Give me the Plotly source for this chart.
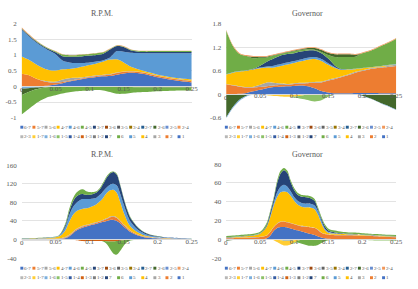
import plotly.graph_objects as go

# ---------------- data ----------------
x_top = [0, 0.01, 0.02, 0.03, 0.04, 0.05, 0.06, 0.07, 0.08, 0.09, 0.10, 0.11, 0.12,
         0.13, 0.14, 0.15, 0.16, 0.17, 0.18, 0.19, 0.20, 0.21, 0.22, 0.23, 0.24, 0.25]
x_bot = [0, 0.01, 0.02, 0.03, 0.04, 0.05, 0.055, 0.06, 0.065, 0.07, 0.075, 0.08, 0.085,
         0.09, 0.095, 0.1, 0.105, 0.11, 0.115, 0.12, 0.125, 0.13, 0.135, 0.14, 0.145,
         0.15, 0.155, 0.16, 0.17, 0.18, 0.19, 0.2, 0.21, 0.22, 0.23, 0.24, 0.25]

legend_row1 = ["6-7", "5-7", "5-6", "4-7", "4-6", "4-5", "3-7", "3-6", "3-5", "3-4", "2-7", "2-6", "2-5", "2-4"]
legend_row2 = ["2-3", "1-7", "1-6", "1-5", "1-4", "1-3", "1-2", "7", "6", "5", "4", "3", "2", "1"]
series_colors = {
    "6-7": "#4472C4", "5-7": "#ED7D31", "5-6": "#A5A5A5", "4-7": "#FFC000", "4-6": "#5B9BD5",
    "4-5": "#70AD47", "3-7": "#264478", "3-6": "#9E480E", "3-5": "#636363", "3-4": "#997300",
    "2-7": "#255E91", "2-6": "#43682B", "2-5": "#698ED0", "2-4": "#F1975A", "2-3": "#B7B7B7",
    "1-7": "#FFCD33", "1-6": "#7CAFDD", "1-5": "#8CC168", "1-4": "#335AA1", "1-3": "#D26012",
    "1-2": "#7C7C7C", "7": "#264478", "6": "#70AD47", "5": "#5B9BD5", "4": "#FFC000",
    "3": "#A5A5A5", "2": "#ED7D31", "1": "#4472C4",
}

x_tick_vals = [0, 0.05, 0.1, 0.15, 0.2, 0.25]
x_tick_text = ["0", "0.05", "0.1", "0.15", "0.2", "0.25"]
titles = ["R.P.M.", "Governor", "R.P.M.", "Governor"]
y_ticks_tl = [-1, -0.5, 0, 0.5, 1, 1.5, 2]
y_text_tl = ["-1", "-0.5", "0", "0.5", "1", "1.5", "2"]
y_ticks_tr = [-0.6, 0, 0.6, 1.2, 1.8]
y_text_tr = ["-0.6", "0", "0.6", "1.2", "1.8"]
y_ticks_bl = [-40, 0, 40, 80, 120, 160]
y_text_bl = ["-40", "0", "40", "80", "120", "160"]
y_ticks_br = [-20, 0, 20, 40, 60, 80]
y_text_br = ["-20", "0", "20", "40", "60", "80"]

# top-left: R.P.M. (normalised)
rpm_n_1 = [0, 0, 0, .01, .03, .06, .10, .15, .19, .23, .27, .30, .32, .33, .37, .41, .43, .42, .39, .34, .29, .25, .21, .18, .15, .12]
rpm_n_2 = [.40, .36, .26, .17, .10, .05, .04, .03, .03, .03, .03, .03, .03, .04, .05, .05, .04, .04, .04, .04, .04, .04, .04, .04, .04, .04]
rpm_n_3 = [0, 0, 0, .01, .02, .04, .08, .08, .05, .03, .02, .02, .02, .02, .02, .01, .01, .01, .01, .01, .01, .01, .01, .01, .01, .01]
rpm_n_4 = [.55, .49, .46, .41, .37, .35, .32, .29, .31, .34, .36, .38, .42, .46, .42, .29, .15, .08, .05, .04, .03, .03, .03, .03, .04, .05]
rpm_n_5 = [.85, .75, .70, .67, .62, .52, .28, .21, .16, .11, .08, .06, .04, .07, .26, .34, .44, .51, .56, .62, .68, .72, .76, .79, .81, .83]
rpm_n_7 = [.03, .03, .03, .03, .04, .06, .14, .18, .20, .22, .22, .21, .21, .25, .16, .15, .08, .05, .04, .04, .04, .04, .04, .04, .04, .04]
rpm_n_45 = [.02, .02, .02, .02, .02, .03, .05, .05, .05, .05, .05, .05, .04, .02, .02, .02, .02, .02, .03, .03, .03, .03, .03, .03, .03, .03]
rpm_n_24 = [.03, .02, .02, .01, .01, .01, .01, .01, .01, .01, .01, .01, .01, .01, .01, .01, .01, .01, .01, .01, .01, .01, .01, .01, .01, .01]
rpm_n_16 = [-.08, -.06, -.04, -.03, -.02, -.02, -.02, -.02, -.02, -.02, -.02, -.02, -.02, -.02, -.02, -.02, -.02, -.02, -.02, -.02, -.02, -.02, -.02, -.02, -.02, -.02]
rpm_n_26 = [-.20, -.12, -.06, -.02, 0, 0, 0, 0, 0, 0, 0, 0, 0, 0, 0, 0, 0, -.01, -.02, -.02, -.02, -.02, -.02, -.02, -.02, -.02]
rpm_n_6 = [-.62, -.55, -.46, -.38, -.31, -.26, -.21, -.17, -.14, -.12, -.11, -.10, -.11, -.16, -.22, -.22, -.19, -.16, -.14, -.13, -.12, -.11, -.10, -.09, -.09, -.09]

# top-right: Governor (normalised)
gov_n_1 = [0, 0, .01, .03, .07, .11, .15, .18, .19, .20, .21, .22, .20, .15, .08, .04, .02, .02, .02, .03, .03, .03, .03, .02, .02, .02]
gov_n_2 = [.25, .22, .18, .14, .10, .07, .05, .04, .04, .04, .05, .05, .08, .14, .22, .31, .37, .42, .47, .52, .56, .60, .63, .66, .68, .70]
gov_n_3 = [.01, .01, .01, .01, .02, .06, .10, .07, .04, .02, .02, .02, .02, .02, .02, .02, .02, .02, .02, .02, .02, .02, .02, .02, .03, .03]
gov_n_4 = [.24, .32, .38, .42, .44, .42, .38, .39, .45, .50, .52, .55, .58, .59, .53, .38, .26, .16, .12, .07, .05, .03, .02, .02, .01, .01]
gov_n_5 = [.01, .01, .01, .01, .01, .02, .03, .05, .05, .05, .05, .05, .05, .05, .05, .04, .02, .01, .01, .01, .01, .01, .01, .01, .01, .01]
gov_n_7 = [0, 0, 0, 0, .01, .05, .12, .18, .22, .22, .20, .20, .19, .17, .15, .12, .04, .01, 0, 0, 0, 0, 0, 0, 0, 0]
gov_n_6 = [1.12, .67, .44, .37, .27, .20, .11, .08, .04, .04, .05, .04, .03, .02, .03, .09, .22, .31, .31, .31, .38, .41, .46, .52, .58, .65]
gov_n_26 = [-.60, -.33, -.14, -.04, .04, .03, .02, .01, .01, .01, .02, .02, .03, .04, .05, .06, .07, .07, .07, .05, -.04, -.10, -.17, -.25, -.32, -.40]
gov_n_24 = [.02, .02, .02, .02, .02, .02, .02, .02, .02, .02, .02, .02, .02, .02, .02, .02, .02, .02, .02, .02, .02, .02, .02, .02, .02, .02]
gov_n_16 = [-.03, -.03, -.03, -.02, -.02, -.02, -.02, -.02, -.02, -.02, -.02, -.02, -.01, -.01, -.01, -.01, -.01, -.01, -.01, -.01, -.01, -.01, -.01, -.01, -.01, -.01]
gov_n_17 = [0, 0, 0, 0, 0, 0, -.01, -.03, -.04, -.05, -.04, -.02, 0, 0, 0, 0, 0, 0, 0, 0, 0, 0, 0, 0, 0, 0]
gov_n_15 = [0, 0, 0, 0, 0, 0, 0, 0, 0, 0, -.03, -.08, -.14, -.18, -.15, -.06, -.01, 0, 0, 0, 0, 0, 0, 0, 0, 0]

# bottom-left: R.P.M. (absolute)
rpm_a_1 = [0, 0, 0, 0, 0, 0, 0, 1, 3, 7, 13, 19, 23, 26, 28, 30, 32, 34, 36, 38, 40, 42, 42, 40, 35, 28, 22, 16, 9, 5, 3, 2, 1, 1, 0.5, 0.5, 0.3]
rpm_a_2 = [0.5, 0.5, 0.5, 0.5, 0.5, 0.7, 0.8, 1, 1.2, 1.5, 1.8, 2, 2, 2, 2, 2, 2, 2, 2.5, 3, 4, 6, 7, 6, 4, 3, 2.5, 2, 1.5, 1, 1, 0.8, 0.6, 0.5, 0.4, 0.3, 0.2]
rpm_a_3 = [1.5, 1.5, 1.5, 1.5, 1.5, 1.5, 1.5, 1.5, 1.5, 1.5, 1.5, 1.5, 1.5, 1.5, 1.5, 1.5, 1.5, 1.5, 1.5, 1.5, 1.5, 1.5, 1.5, 1.5, 1.5, 1.5, 1.5, 1.5, 1, 1, 1, 1, 1, 1, 1, 0.5, 0.5]
rpm_a_4 = [0.3, 0.3, 0.4, 0.6, 1.2, 2.8, 4.7, 8.5, 16, 28, 36, 37.5, 37.5, 36.5, 35.5, 35.5, 36.5, 38.5, 42, 47.5, 54.5, 56.5, 56.5, 52.5, 39.5, 25.5, 14, 8.5, 4.5, 2, 1, 0.5, 0.4, 0.3, 0.3, 0.3, 0.2]
rpm_a_5 = [0.3, 0.3, 0.3, 0.4, 0.5, 0.6, 0.8, 4, 8, 14, 16, 18, 20, 21, 20, 18, 16, 14, 14, 14, 12, 12, 13, 16, 18, 17, 14, 10, 6, 4, 2, 1.5, 1, 0.8, 0.6, 0.5, 0.3]
rpm_a_7 = [0.2, 0.2, 0.2, 0.3, 0.4, 0.5, 0.8, 2, 4, 8, 12, 14, 13, 11, 9, 9, 10, 11, 12, 16, 21, 24, 25, 23, 18, 13, 10, 8, 5, 2.5, 1.5, 1, 0.6, 0.5, 0.4, 0.3, 0.2]
rpm_a_45 = [0.5, 0.5, 0.5, 0.5, 0.5, 0.5, 0.7, 2, 4, 6, 7, 8, 9, 10, 8, 6, 4, 3, 3, 3, 3, 2, 1, 2, 2, 2, 2, 2, 1, 0.5, 0.5, 0.5, 0.3, 0.3, 0.2, 0.2, 0.2]
rpm_a_12 = [-1.5, -1.5, -1.5, -1.5, -1.5, -1.5, -1.2, -1, -0.8, -0.5, -0.5, -0.5, -0.5, -0.5, -0.5, -0.5, -0.5, -0.5, -0.5, -0.5, -0.5, -0.5, -0.5, -0.5, -0.5, -0.5, -0.5, -0.5, -0.5, -0.5, -0.5, -0.5, -0.5, -0.5, -0.5, -0.5, -0.5]
rpm_a_13 = [0, 0, 0, 0, 0, 0, 0, 0, 0, 0, 0, -1, -2, -3, -3, -3, -3, -3, -3, -3, -3.5, -4, -4, -3, -2, -1, 0, 0, 0, 0, 0, 0, 0, 0, 0, 0, 0]
rpm_a_6 = [0, 0, 0, 0, 0, 0, 0, 0, 0, 0, 0, 0, 0, 0, 0, 0, 0, 0, 0, -1, -6, -16, -26, -29, -22, -12, -5, -1.5, -0.5, 0, 0, 0, 0, 0, 0, 0, 0]

# bottom-right: Governor (absolute)
gov_a_1 = [0, 0, 0, 0, 0, 0, 0, 1, 4, 9, 12, 13, 13, 12.5, 11.5, 10.5, 9.5, 8.5, 7.5, 6.5, 5.5, 4.5, 3, 2, 1, 0.5, 0.3, 0.2, 0.2, 0.2, 0.2, 0.2, 0.2, 0.2, 0.1, 0.1, 0.1]
gov_a_2 = [1, 1.2, 1.5, 1.7, 2, 2.5, 3, 3, 4, 4, 4.5, 5.5, 6, 5.5, 5.5, 5.5, 5.5, 5.5, 6, 6.5, 7, 7.5, 7, 5, 4.5, 4.5, 4.3, 4.2, 4.1, 4, 3.8, 3.5, 3.2, 3, 2.6, 2.3, 2]
gov_a_3 = [0.3, 0.3, 0.3, 0.3, 0.3, 0.3, 0.3, 0.3, 0.3, 0.3, 0.3, 0.3, 0.3, 0.3, 0.3, 0.3, 0.3, 0.3, 0.3, 0.3, 0.3, 0.3, 0.3, 0.3, 0.3, 0.3, 0.3, 0.3, 0.3, 0.3, 0.3, 0.3, 0.3, 0.3, 0.3, 0.3, 0.3]
gov_a_4 = [0.5, 0.7, 1.0, 1.3, 1.7, 3.2, 5.7, 9.7, 15.7, 22.7, 28.2, 31.2, 31.7, 31.7, 28.7, 24.7, 21.7, 20.7, 20.2, 20.7, 20.7, 19.7, 15.7, 9.7, 4.2, 1.7, 1.3, 1.3, 0.9, 0.7, 0.7, 0.6, 0.5, 0.4, 0.5, 0.5, 0.5]
gov_a_5 = [0.3, 0.3, 0.3, 0.3, 0.3, 0.3, 0.3, 0.5, 1.5, 3, 5, 6, 7, 6, 5, 4, 4, 4, 4, 4, 4, 4, 4, 3, 1.5, 1, 0.7, 0.5, 0.4, 0.3, 0.3, 0.3, 0.3, 0.3, 0.3, 0.3, 0.3]
gov_a_7 = [0.2, 0.2, 0.2, 0.2, 0.2, 0.3, 0.5, 1.5, 3.5, 4, 10, 14, 15.5, 14.5, 9.5, 7.5, 6.5, 6.5, 7, 6.5, 6, 5, 2, 2, 2.5, 1.5, 1, 0.8, 0.5, 0.3, 0.3, 0.3, 0.3, 0.2, 0.2, 0.2, 0.2]
gov_a_45 = [1.3, 1.3, 1.3, 1.3, 1.3, 1.5, 2, 2, 2, 2, 2.5, 3, 2.5, 2.5, 2, 2, 2, 2, 2, 2, 2, 2, 2, 2, 2, 2, 2, 2, 1.5, 1.5, 1.5, 1.2, 1.2, 1.2, 1.2, 1.2, 1.2]
gov_a_26 = [-1.5, -0.8, -0.3, 0, 0, 0, 0, 0, 0, 0, 0, 0, 0, 0, 0, 0, 0, 0, 0, 0, 0, 0, 0, 0, 0, 0, 0, 0, 0, 0, 0, 0, 0, 0, 0, 0, 0]
gov_a_16 = [0, 0, 0, 0, 0, 0, 0, 0, 0, 0, -0.5, -1, -1.5, -1.5, -1.5, -1, -0.5, 0, 0, 0, 0, 0, 0, 0, 0, 0, 0, 0, 0, 0, 0, 0, 0, 0, 0, 0, 0]
gov_a_17 = [0, 0, 0, 0, 0, 0, 0, 0, 0, -1, -2.5, -4, -5, -5, -4, -2.5, -1, -0.5, 0, 0, 0, 0, 0, 0, 0, 0, 0, 0, 0, 0, 0, 0, 0, 0, 0, 0, 0]
gov_a_6 = [0, 0, 0, 0, 0, 0, 0, 0, 0, 0, 0, 0, 0, 0, 0, -0.5, -2, -4, -5.5, -6.5, -7, -7, -6, -4, -2, -1, -0.3, 0, 0, 0, 0, 0, 0, 0, 0, 0, 0]
gov_a_15 = [0, 0, 0, 0, 0, 0, 0, 0, 0, 0, 0, 0, 0, 0, 0, 0, 0, 0, 0, 0, 0, 0, 0, 0, 0, 0, 0, 0, 0, 0, -0.3, -0.6, -1, -1.2, -1.3, -1.4, -1.5]

# ---------------- layout constants (pixels) ----------------
W, H = 418, 289
FONT = "Liberation Serif"
TXT = "#595959"
GRID = "#D9D9D9"

panels = [
    dict(name="tl", x=x_top, series=[("1", rpm_n_1), ("2", rpm_n_2), ("3", rpm_n_3), ("4", rpm_n_4), ("5", rpm_n_5),
                                     ("7", rpm_n_7), ("4-5", rpm_n_45), ("2-4", rpm_n_24), ("1-6", rpm_n_16),
                                     ("2-6", rpm_n_26), ("6", rpm_n_6)],
         yr=(-1, 2), yt=(y_ticks_tl, y_text_tl), px=(22, 195), py=(20, 117), title=titles[0], tx=104, ty=10, ox=0, oy=0),
    dict(name="tr", x=x_top, series=[("1", gov_n_1), ("2", gov_n_2), ("3", gov_n_3), ("4", gov_n_4), ("5", gov_n_5),
                                     ("7", gov_n_7), ("6", gov_n_6), ("2-6", gov_n_26), ("2-4", gov_n_24),
                                     ("1-6", gov_n_16), ("1-7", gov_n_17), ("1-5", gov_n_15)],
         yr=(-0.6, 1.8), yt=(y_ticks_tr, y_text_tr), px=(230, 403), py=(20.5, 116.7), title=titles[1], tx=313, ty=10, ox=208, oy=0),
    dict(name="bl", x=x_bot, series=[("1", rpm_a_1), ("2", rpm_a_2), ("3", rpm_a_3), ("4", rpm_a_4), ("5", rpm_a_5),
                                     ("7", rpm_a_7), ("4-5", rpm_a_45), ("1-2", rpm_a_12), ("1-3", rpm_a_13), ("6", rpm_a_6)],
         yr=(-40, 160), yt=(y_ticks_bl, y_text_bl), px=(22, 195), py=(165.7, 261.3), title=titles[2], tx=104, ty=155, ox=0, oy=145),
    dict(name="br", x=x_bot, series=[("1", gov_a_1), ("2", gov_a_2), ("3", gov_a_3), ("4", gov_a_4), ("5", gov_a_5),
                                     ("7", gov_a_7), ("4-5", gov_a_45), ("2-6", gov_a_26), ("1-6", gov_a_16),
                                     ("1-7", gov_a_17), ("6", gov_a_6), ("1-5", gov_a_15)],
         yr=(-20, 80), yt=(y_ticks_br, y_text_br), px=(230, 403), py=(164.7, 261.3), title=titles[3], tx=313, ty=155, ox=208, oy=145),
]

fig = go.Figure()
layout = dict(width=W, height=H, margin=dict(l=0, r=0, t=0, b=0), paper_bgcolor="white",
              plot_bgcolor="white", showlegend=False, font=dict(family=FONT, color=TXT))
annotations, shapes = [], []

for i, p in enumerate(panels):
    k = "" if i == 0 else str(i + 1)
    xa, ya = "x" + k, "y" + k
    y0, y1 = p["yr"]
    top_px, bot_px = p["py"]
    zero_px = top_px + (y1 - 0) / (y1 - y0) * (bot_px - top_px)
    for part in ("pos", "neg"):
        for nm, vals in p["series"]:
            v = [max(a, 0) for a in vals] if part == "pos" else [min(a, 0) for a in vals]
            if not any(v):
                continue
            fig.add_trace(go.Scatter(x=p["x"], y=v, xaxis=xa, yaxis=ya, mode="lines",
                                     stackgroup=p["name"] + part, fillcolor=series_colors[nm],
                                     line=dict(width=0, shape="spline", smoothing=0.8, color=series_colors[nm]),
                                     name=nm, hoverinfo="skip"))
    # x axis crosses at y = 0 (Excel style)
    layout["xaxis" + k] = dict(domain=[p["px"][0] / W, p["px"][1] / W], range=[0, 0.25], anchor="free",
                               position=1 - zero_px / H, showgrid=False, zeroline=False, showline=True,
                               linecolor=GRID, linewidth=1, ticks="", tickvals=x_tick_vals[1:],
                               ticktext=x_tick_text[1:], ticklabeloverflow="allow", ticklabelstandoff=-5,
                               tickfont=dict(size=7, family=FONT, color=TXT))
    layout["yaxis" + k] = dict(domain=[1 - bot_px / H, 1 - top_px / H], range=[y0, y1], anchor=xa,
                               showgrid=True, gridcolor=GRID, gridwidth=0.75, zeroline=False, showline=False,
                               ticks="", tickvals=p["yt"][0], ticktext=p["yt"][1], ticklabelstandoff=4,
                               ticklabeloverflow="allow",
                               tickfont=dict(size=7, family=FONT, color=TXT))
    # first x tick label (at the origin) as text placed on the axis
    annotations.append(dict(text=x_tick_text[0], x=x_tick_vals[0], y=0, xref=xa, yref=ya, showarrow=False,
                            xanchor="center", yanchor="middle", yshift=-3.8, borderpad=0,
                            font=dict(size=7, family=FONT, color=TXT)))
    annotations.append(dict(text=p["title"], x=p["tx"] / W, y=1 - p["ty"] / H, xref="paper", yref="paper",
                            showarrow=False, xanchor="center", yanchor="middle",
                            font=dict(size=8, family=FONT, color=TXT)))
    # legend (two rows, 14 columns)
    for r, row in enumerate((legend_row1, legend_row2)):
        ry = p["oy"] + (126.7 if r == 0 else 136.5)
        for c, nm in enumerate(row):
            lx = p["ox"] + 20.7 + 12.3 * c
            shapes.append(dict(type="rect", xref="paper", yref="paper", x0=lx / W, x1=(lx + 3) / W,
                               y0=1 - (ry + 1.5) / H, y1=1 - (ry - 1.5) / H, fillcolor=series_colors[nm],
                               line=dict(width=0)))
            annotations.append(dict(text=nm, x=(lx + 3.2) / W, y=1 - ry / H, xref="paper", yref="paper",
                                    showarrow=False, xanchor="left", yanchor="middle", borderpad=0,
                                    font=dict(size=5, family=FONT, color=TXT)))

layout["annotations"] = annotations
layout["shapes"] = shapes
fig.update_layout(**layout)
fig.write_html("out.html", config={"displayModeBar": False, "staticPlot": True},
               post_script="document.body.style.margin='0';document.body.style.overflow='hidden';")
